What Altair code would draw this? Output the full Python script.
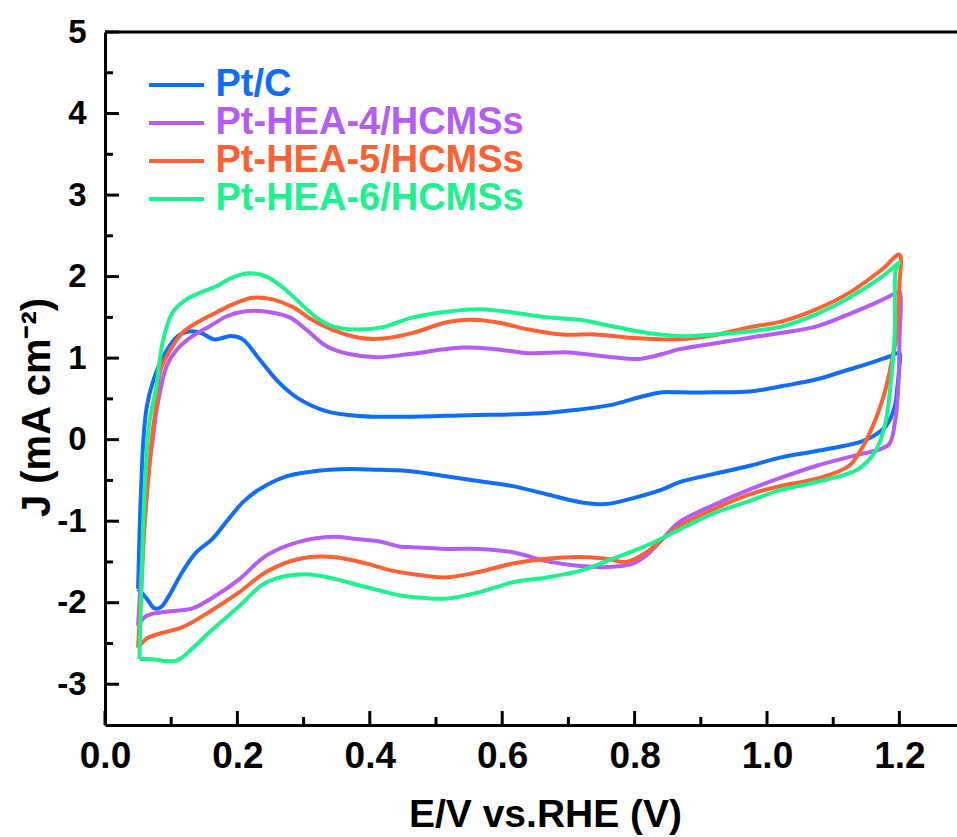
import altair as alt
import pandas as pd

SERIES = ["Pt/C", "Pt-HEA-4/HCMSs", "Pt-HEA-5/HCMSs", "Pt-HEA-6/HCMSs"]
COLORS = ["#0F6DF7", "#B55CF6", "#FF6132", "#1CF28E"]

X_TICKS = [0.0, 0.2, 0.4, 0.6, 0.8, 1.0, 1.2]
X_MINOR = [0.1, 0.3, 0.5, 0.7, 0.9, 1.1]
Y_TICKS = [-3, -2, -1, 0, 1, 2, 3, 4, 5]
Y_MINOR = [-2.5, -1.5, -0.5, 0.5, 1.5, 2.5, 3.5, 4.5]

PTC_E = [0.050, 0.052, 0.055, 0.058, 0.063, 0.072, 0.090, 0.110, 0.130, 0.145, 0.165, 0.190, 0.208,
         0.233, 0.263, 0.293, 0.334, 0.384, 0.450, 0.550, 0.650, 0.717, 0.767, 0.807, 0.842, 0.868,
         0.920, 0.974, 1.025, 1.075, 1.124, 1.160, 1.185, 1.200,
         1.200, 1.197, 1.193, 1.180, 1.160, 1.140, 1.075, 1.020, 0.974, 0.920, 0.868, 0.842, 0.792,
         0.757, 0.720, 0.667, 0.616, 0.566, 0.515, 0.465, 0.415, 0.370, 0.340, 0.314, 0.274, 0.233,
         0.208, 0.183, 0.162, 0.138, 0.117, 0.097, 0.085, 0.075, 0.063, 0.050]
PTC_J = [-1.83, -1.20, -0.50, 0.00, 0.40, 0.70, 1.05, 1.27, 1.33, 1.31, 1.23, 1.27, 1.23,
         0.99, 0.70, 0.50, 0.35, 0.29, 0.28, 0.30, 0.32, 0.37, 0.43, 0.52, 0.58, 0.58,
         0.58, 0.59, 0.66, 0.74, 0.86, 0.95, 1.02, 1.06,
         0.90, 0.65, 0.41, 0.17, 0.04, -0.03, -0.14, -0.22, -0.32, -0.42, -0.52, -0.61, -0.73,
         -0.79, -0.77, -0.67, -0.57, -0.51, -0.45, -0.39, -0.37, -0.36, -0.37, -0.39, -0.45, -0.61,
         -0.77, -1.01, -1.22, -1.38, -1.62, -1.91, -2.05, -2.07, -1.95, -1.83]

HEA4_E = [0.050, 0.055, 0.060, 0.066, 0.072, 0.079, 0.093, 0.108, 0.132, 0.158, 0.183, 0.208, 0.244,
          0.279, 0.304, 0.334, 0.369, 0.410, 0.460, 0.540, 0.590, 0.640, 0.700, 0.767, 0.807, 0.842,
          0.868, 0.920, 0.974, 1.023, 1.075, 1.124, 1.165, 1.195, 1.200,
          1.200, 1.198, 1.193, 1.185, 1.170, 1.140, 1.075, 1.020, 0.974, 0.920, 0.868, 0.842, 0.818,
          0.797, 0.767, 0.717, 0.667, 0.616, 0.566, 0.515, 0.465, 0.445, 0.415, 0.380, 0.344, 0.294,
          0.244, 0.203, 0.168, 0.132, 0.093, 0.063, 0.050]
HEA4_J = [-2.28, -1.60, -1.00, -0.40, 0.00, 0.41, 0.90, 1.10, 1.27, 1.39, 1.51, 1.57, 1.57,
          1.50, 1.35, 1.15, 1.05, 1.01, 1.05, 1.13, 1.11, 1.06, 1.07, 1.01, 0.99, 1.05,
          1.11, 1.18, 1.25, 1.31, 1.39, 1.54, 1.68, 1.80, 1.82,
          1.20, 0.60, 0.20, -0.05, -0.12, -0.18, -0.32, -0.47, -0.61, -0.80, -1.01, -1.22, -1.42,
          -1.52, -1.56, -1.55, -1.49, -1.38, -1.34, -1.34, -1.32, -1.31, -1.25, -1.22, -1.19, -1.25,
          -1.42, -1.71, -1.91, -2.07, -2.11, -2.16, -2.28]

HEA5_E = [0.050, 0.055, 0.060, 0.066, 0.072, 0.078, 0.083, 0.093, 0.117, 0.142, 0.168, 0.193, 0.223,
          0.253, 0.283, 0.313, 0.343, 0.384, 0.420, 0.465, 0.516, 0.550, 0.591, 0.641, 0.691, 0.742,
          0.792, 0.868, 0.920, 0.974, 1.023, 1.075, 1.124, 1.174, 1.200,
          1.200, 1.196, 1.185, 1.175, 1.160, 1.145, 1.124, 1.075, 1.020, 0.974, 0.920, 0.868, 0.842,
          0.818, 0.788, 0.757, 0.717, 0.667, 0.616, 0.566, 0.515, 0.465, 0.430, 0.395, 0.344, 0.294,
          0.244, 0.203, 0.158, 0.117, 0.082, 0.063, 0.050]
HEA5_J = [-2.55, -1.80, -1.00, -0.40, 0.10, 0.45, 0.83, 1.02, 1.31, 1.45, 1.56, 1.66, 1.74,
          1.72, 1.63, 1.47, 1.35, 1.25, 1.24, 1.31, 1.44, 1.47, 1.44, 1.35, 1.29, 1.29,
          1.25, 1.23, 1.28, 1.38, 1.45, 1.60, 1.80, 2.09, 2.27,
          1.90, 1.31, 0.82, 0.50, 0.17, -0.08, -0.32, -0.48, -0.57, -0.67, -0.85, -1.06, -1.22,
          -1.38, -1.50, -1.46, -1.44, -1.46, -1.52, -1.62, -1.69, -1.65, -1.60, -1.52, -1.44, -1.46,
          -1.62, -1.87, -2.11, -2.30, -2.38, -2.44, -2.55]

HEA6_E = [0.052, 0.056, 0.060, 0.067, 0.077, 0.087, 0.102, 0.123, 0.143, 0.168, 0.193, 0.218, 0.244,
          0.268, 0.294, 0.319, 0.344, 0.384, 0.420, 0.465, 0.516, 0.566, 0.616, 0.667, 0.717, 0.767,
          0.818, 0.868, 0.920, 0.974, 1.023, 1.075, 1.124, 1.174, 1.200,
          1.195, 1.193, 1.187, 1.178, 1.163, 1.138, 1.075, 1.020, 0.974, 0.920, 0.868, 0.818, 0.767,
          0.717, 0.667, 0.616, 0.566, 0.515, 0.465, 0.445, 0.415, 0.395, 0.304, 0.244, 0.203, 0.158,
          0.132, 0.108, 0.067, 0.052]
HEA6_J = [-2.69, -1.50, -0.60, 0.21, 0.62, 1.19, 1.56, 1.72, 1.80, 1.88, 1.99, 2.04, 2.00,
          1.87, 1.68, 1.50, 1.39, 1.35, 1.38, 1.50, 1.57, 1.60, 1.56, 1.50, 1.47, 1.39,
          1.31, 1.27, 1.29, 1.33, 1.39, 1.54, 1.74, 2.00, 2.17,
          2.10, 1.31, 0.70, 0.17, -0.15, -0.36, -0.52, -0.62, -0.75, -0.90, -1.10, -1.30, -1.46,
          -1.61, -1.69, -1.75, -1.87, -1.95, -1.93, -1.91, -1.85, -1.81, -1.65, -1.75, -2.04, -2.36,
          -2.56, -2.71, -2.69, -2.69]

rows = []
for name, es, js in zip(SERIES, [PTC_E, HEA4_E, HEA5_E, HEA6_E], [PTC_J, HEA4_J, HEA5_J, HEA6_J]):
    for i, (e, j) in enumerate(zip(es, js)):
        rows.append({"series": name, "E": e, "J": j, "order": i})
df = pd.DataFrame(rows)

W, H = 852, 693
FONT = "Liberation Sans"
xscale = alt.Scale(domain=[0, 1.287], nice=False, zero=False)
yscale = alt.Scale(domain=[-3.5, 5], nice=False, zero=False)

color_expr = " : ".join(
    f"datum.label == '{s}' ? '{c}'" for s, c in zip(SERIES[:-1], COLORS[:-1])
) + f" : '{COLORS[-1]}'"

lines = alt.Chart(df).mark_line(strokeWidth=4, interpolate="catmull-rom").encode(
    x=alt.X("E:Q", scale=xscale, axis=alt.Axis(
        values=X_TICKS, format=".1f", title="E/V vs.RHE (V)", ticks=False, grid=False,
        domainColor="black", domainWidth=3, labelFont=FONT, labelFontSize=37,
        labelFontWeight="bold", labelColor="black", labelPadding=13, labelFlush=False,
        titleFont=FONT, titleFontSize=39, titleFontWeight="bold", titleColor="black",
        titleX=440, titleY=89, titleBaseline="middle")),
    y=alt.Y("J:Q", scale=yscale, axis=alt.Axis(
        values=Y_TICKS, labelExpr="'' + datum.value", title="J (mA cm⁻²)", ticks=False, grid=False,
        domainColor="black", domainWidth=3, labelFont=FONT, labelFontSize=33,
        labelFontWeight="bold", labelColor="black", labelPadding=19, labelFlush=False,
        titleFont=FONT, titleFontSize=40, titleFontWeight="bold", titleColor="black",
        titleX=-68, titleY=375, titleBaseline="middle", titleAngle=270)),
    color=alt.Color("series:N", scale=alt.Scale(domain=SERIES, range=COLORS), legend=alt.Legend(
        title=None, orient="none", legendX=52.5, legendY=34, padding=0,
        symbolType="M-2.5,0H2.5", symbolSize=484, symbolStrokeWidth=4,
        labelFont=FONT, labelFontSize=38, labelFontWeight="bold",
        labelColor=alt.ExprRef(color_expr), labelOffset=20, rowPadding=0, labelLimit=500)),
    order=alt.Order("order:Q"),
)

x_major = alt.Chart(pd.DataFrame({"E": X_TICKS})).mark_rule(color="black", strokeWidth=3).encode(
    x=alt.X("E:Q", scale=xscale), y=alt.value(H), y2=alt.value(H - 14))
x_minor = alt.Chart(pd.DataFrame({"E": X_MINOR})).mark_rule(color="black", strokeWidth=3).encode(
    x=alt.X("E:Q", scale=xscale), y=alt.value(H), y2=alt.value(H - 8))
y_major = alt.Chart(pd.DataFrame({"J": Y_TICKS})).mark_rule(color="black", strokeWidth=3).encode(
    y=alt.Y("J:Q", scale=yscale), x=alt.value(0), x2=alt.value(14))
y_minor = alt.Chart(pd.DataFrame({"J": Y_MINOR})).mark_rule(color="black", strokeWidth=3).encode(
    y=alt.Y("J:Q", scale=yscale), x=alt.value(0), x2=alt.value(8))
top_line = alt.Chart(pd.DataFrame({"J": [5]})).mark_rule(color="black", strokeWidth=3).encode(
    y=alt.Y("J:Q", scale=yscale), x=alt.value(0), x2=alt.value(W))

chart = alt.layer(lines, x_major, x_minor, y_major, y_minor, top_line).properties(
    width=W, height=H,
    padding={"left": 105, "top": 32, "right": 0, "bottom": 112},
    autosize=alt.AutoSizeParams(type="none"),
    background="white",
).configure_view(stroke=None)

chart.save("out.html", embed_options={"renderer": "svg", "actions": False})
